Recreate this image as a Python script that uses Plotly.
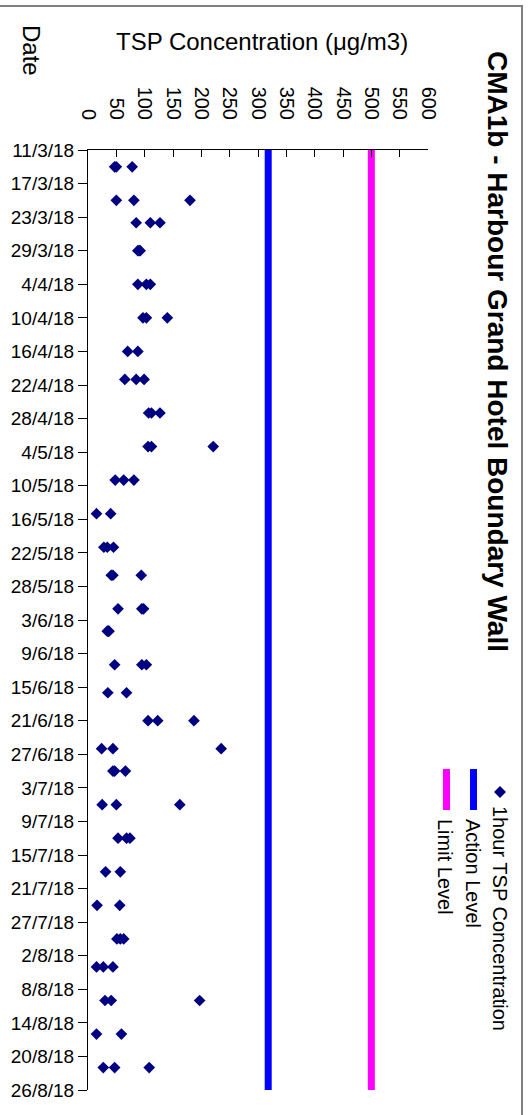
import plotly.graph_objects as go
from datetime import datetime

# ---------------- data ----------------
chart_title = "CMA1b - Harbour Grand Hotel Boundary Wall"
value_axis_title = "TSP Concentration (μg/m3)"
date_axis_title = "Date"
series_names = ["1hour TSP Concentration", "Action Level", "Limit Level"]

date_tick_labels = ["11/3/18", "17/3/18", "23/3/18", "29/3/18", "4/4/18", "10/4/18",
                    "16/4/18", "22/4/18", "28/4/18", "4/5/18", "10/5/18", "16/5/18",
                    "22/5/18", "28/5/18", "3/6/18", "9/6/18", "15/6/18", "21/6/18",
                    "27/6/18", "3/7/18", "9/7/18", "15/7/18", "21/7/18", "27/7/18",
                    "2/8/18", "8/8/18", "14/8/18", "20/8/18", "26/8/18"]
value_ticks = [0, 50, 100, 150, 200, 250, 300, 350, 400, 450, 500, 550, 600]

sample_dates = [
    "2018-03-14", "2018-03-14", "2018-03-14",
    "2018-03-20", "2018-03-20", "2018-03-20",
    "2018-03-24", "2018-03-24", "2018-03-24",
    "2018-03-29", "2018-03-29", "2018-03-29",
    "2018-04-04", "2018-04-04", "2018-04-04",
    "2018-04-10", "2018-04-10", "2018-04-10",
    "2018-04-16", "2018-04-16",
    "2018-04-21", "2018-04-21", "2018-04-21",
    "2018-04-27", "2018-04-27", "2018-04-27",
    "2018-05-03", "2018-05-03", "2018-05-03",
    "2018-05-09", "2018-05-09", "2018-05-09",
    "2018-05-15", "2018-05-15",
    "2018-05-21", "2018-05-21", "2018-05-21",
    "2018-05-26", "2018-05-26", "2018-05-26",
    "2018-06-01", "2018-06-01", "2018-06-01",
    "2018-06-05", "2018-06-05", "2018-06-05",
    "2018-06-11", "2018-06-11", "2018-06-11",
    "2018-06-16", "2018-06-16",
    "2018-06-21", "2018-06-21", "2018-06-21",
    "2018-06-26", "2018-06-26", "2018-06-26",
    "2018-06-30", "2018-06-30", "2018-06-30",
    "2018-07-06", "2018-07-06", "2018-07-06",
    "2018-07-12", "2018-07-12", "2018-07-12",
    "2018-07-18", "2018-07-18",
    "2018-07-24", "2018-07-24",
    "2018-07-30", "2018-07-30", "2018-07-30",
    "2018-08-04", "2018-08-04", "2018-08-04",
    "2018-08-10", "2018-08-10", "2018-08-10",
    "2018-08-16", "2018-08-16",
    "2018-08-22", "2018-08-22", "2018-08-22",
]
tsp_values = [
    47, 50, 78,
    50, 81, 180,
    85, 110, 127,
    88, 90, 92,
    88, 103, 110,
    97, 103, 140,
    70, 88,
    65, 85, 99,
    107, 112, 127,
    106, 112, 221,
    48, 63, 81,
    15, 40,
    28, 34, 45,
    41, 44, 94,
    53, 95, 98,
    34, 36, 37,
    47, 95, 103,
    35, 68,
    106, 123, 187,
    24, 44, 235,
    44, 47, 66,
    25, 50, 162,
    53, 68, 74,
    31, 57,
    16, 56,
    51, 57, 63,
    15, 27, 44,
    30, 41, 197,
    15, 59,
    27, 47, 108,
]
action_level = 318
limit_level = 500

# ---------------- layout geometry ----------------
W, H = 531, 1115
ML, MR, MT, MB = 88, 103, 150, 25
PW, PH = W - ML - MR, H - MT - MB
FONT = "Liberation Sans, Arial, sans-serif"


def px(x):
    return (x - ML) / PW


def py(y):
    return (H - MB - y) / PH


tick_dates = [datetime.strptime(s, "%d/%m/%y") for s in date_tick_labels]
date_start, date_end = tick_dates[0], tick_dates[-1]

fig = go.Figure()

fig.add_trace(go.Scatter(
    x=tsp_values, y=sample_dates, mode="markers", name=series_names[0],
    marker=dict(symbol="diamond", size=9, color="#000080"),
    cliponaxis=False, showlegend=False))

fig.add_trace(go.Scatter(
    x=[action_level, action_level], y=[date_start, date_end], mode="lines",
    name=series_names[1], line=dict(color="#0000FF", width=7), showlegend=False))
fig.add_trace(go.Scatter(
    x=[limit_level, limit_level], y=[date_start, date_end], mode="lines",
    name=series_names[2], line=dict(color="#FF00FF", width=7), showlegend=False))

fig.update_layout(
    width=W, height=H,
    margin=dict(l=ML, r=MR, t=MT, b=MB, pad=0),
    paper_bgcolor="white", plot_bgcolor="white",
    font=dict(family=FONT, size=19, color="#000000"),
    showlegend=False,
    xaxis=dict(
        range=[0, 600], side="top", tickmode="array", tickvals=value_ticks,
        ticktext=[str(v) for v in value_ticks], tickangle=90,
        ticks="inside", ticklen=7, tickcolor="#000000", tickwidth=1,
        showline=True, linecolor="#000000", linewidth=1,
        showgrid=False, zeroline=False, ticklabelstandoff=22,
        tickfont=dict(family=FONT, size=20, color="#000000"),
    ),
    yaxis=dict(
        type="date", range=[date_end, date_start], tickmode="array",
        tickvals=tick_dates, ticktext=date_tick_labels,
        ticks="outside", ticklen=9, tickcolor="#000000", tickwidth=1,
        showline=True, linecolor="#000000", linewidth=1,
        showgrid=False, zeroline=False,
        tickfont=dict(family=FONT, size=19, color="#000000"),
    ),
)

annotations = [
    dict(text="<b>" + chart_title + "</b>", textangle=90, x=px(498), y=py(351),
         font=dict(family=FONT, size=28, color="#000000")),
    dict(text=value_axis_title, textangle=0, x=px(262), y=py(42),
         font=dict(family=FONT, size=24, color="#000000")),
    dict(text=date_axis_title, textangle=90, x=px(31), y=py(50),
         font=dict(family=FONT, size=24, color="#000000")),
    dict(text=series_names[0], textangle=90, x=px(500), y=py(919),
         font=dict(family=FONT, size=20, color="#000000")),
    dict(text=series_names[1], textangle=90, x=px(473), y=py(873),
         font=dict(family=FONT, size=20, color="#000000")),
    dict(text=series_names[2], textangle=90, x=px(445), y=py(867),
         font=dict(family=FONT, size=20, color="#000000")),
]
for a in annotations:
    a.update(xref="paper", yref="paper", showarrow=False,
             xanchor="center", yanchor="middle")
fig.update_layout(annotations=annotations)

shapes = [
    # chart frame (top and right edges visible)
    dict(type="rect", xref="paper", yref="paper",
         x0=px(-20), x1=px(522), y0=py(1140), y1=py(6),
         line=dict(color="#808080", width=2), fillcolor="rgba(0,0,0,0)", layer="below"),
    # legend glyphs
    dict(type="path", xref="paper", yref="paper",
         path="M {} {} L {} {} L {} {} L {} {} Z".format(
             px(500), py(786), px(506), py(792), px(500), py(798), px(494), py(792)),
         fillcolor="#000080", line=dict(color="#000080", width=0)),
    dict(type="line", xref="paper", yref="paper",
         x0=px(473.5), x1=px(473.5), y0=py(769), y1=py(810),
         line=dict(color="#0000FF", width=7)),
    dict(type="line", xref="paper", yref="paper",
         x0=px(446.5), x1=px(446.5), y0=py(769), y1=py(810),
         line=dict(color="#FF00FF", width=7)),
]
fig.update_layout(shapes=shapes)

fig.write_html("out.html", config={"displayModeBar": False},
               post_script="document.body.style.margin='0px';")
